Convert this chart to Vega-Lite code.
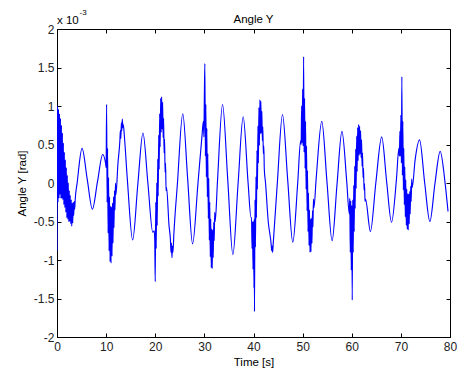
{
  "$schema": "https://vega.github.io/schema/vega-lite/v6.json",
  "width": 393,
  "height": 308,
  "autosize": {"type": "none"},
  "padding": {"left": 57, "top": 29, "right": 8, "bottom": 34},
  "background": "white",
  "title": {"text": "Angle Y", "font": "Liberation Sans", "fontSize": 11.5, "fontWeight": "normal", "color": "black", "offset": 6, "dy": 22},
  "data": {"values": [
    {"t":0,"v":-0.88},{"t":0.1,"v":1.0},{"t":0.2,"v":-0.25},{"t":0.3,"v":0.96},{"t":0.4,"v":-0.2},{"t":0.5,"v":0.9},{"t":0.6,"v":-0.15},{"t":0.7,"v":0.84},{"t":0.8,"v":-0.2},{"t":0.9,"v":0.75},{"t":1.0,"v":-0.2},{"t":1.1,"v":0.65},{"t":1.2,"v":-0.22},{"t":1.3,"v":0.52},{"t":1.4,"v":-0.28},{"t":1.5,"v":0.4},{"t":1.6,"v":-0.32},{"t":1.7,"v":0.3},{"t":1.8,"v":-0.38},{"t":1.9,"v":0.2},{"t":2.0,"v":-0.45},{"t":2.1,"v":0.1},{"t":2.2,"v":-0.47},{"t":2.3,"v":0.0},{"t":2.4,"v":-0.5},{"t":2.5,"v":-0.1},{"t":2.6,"v":-0.5},{"t":2.7,"v":-0.16},{"t":2.8,"v":-0.53},{"t":2.9,"v":-0.22},{"t":3.0,"v":-0.56},{"t":3.1,"v":-0.26},{"t":3.2,"v":-0.52},{"t":3.3,"v":-0.25},{"t":3.4,"v":-0.42},{"t":3.5,"v":-0.24},{"t":3.6,"v":-0.34},{"t":3.7,"v":-0.22},
    {"t":4.1,"v":0.0},{"t":5.1,"v":0.45},{"t":6.15,"v":0.05},{"t":7.2,"v":-0.34},{"t":8.25,"v":0.02},{"t":9.3,"v":0.37},{"t":9.9,"v":0.25},
    {"t":10.0,"v":0.2},{"t":10.1,"v":1.02},{"t":10.2,"v":-0.25},{"t":10.3,"v":0.45},{"t":10.4,"v":-0.65},{"t":10.5,"v":0.07},{"t":10.6,"v":-0.88},{"t":10.7,"v":-0.18},{"t":10.8,"v":-1.02},{"t":10.9,"v":-0.3},{"t":11.0,"v":-1.04},{"t":11.1,"v":-0.31},{"t":11.2,"v":-0.95},{"t":11.3,"v":-0.26},{"t":11.4,"v":-0.78},{"t":11.5,"v":-0.18},{"t":11.6,"v":-0.58},{"t":11.7,"v":-0.1},{"t":11.8,"v":-0.35},{"t":11.9,"v":0.0},{"t":12.0,"v":-0.15},
    {"t":12.4,"v":0.25},{"t":12.8,"v":0.55},{"t":12.9,"v":0.68},{"t":13.0,"v":0.58},{"t":13.1,"v":0.78},{"t":13.2,"v":0.68},{"t":13.3,"v":0.83},{"t":13.4,"v":0.72},{"t":13.5,"v":0.76},{"t":13.7,"v":0.62},
    {"t":14.35,"v":0.02},{"t":15.4,"v":-0.74},{"t":16.45,"v":-0.02},{"t":17.5,"v":0.65},{"t":18.5,"v":0.0},{"t":19.5,"v":-0.64},
    {"t":19.8,"v":-0.62},{"t":19.9,"v":-0.75},{"t":20.0,"v":-1.28},{"t":20.1,"v":-0.25},{"t":20.2,"v":-0.85},{"t":20.3,"v":0.0},{"t":20.4,"v":-0.55},{"t":20.5,"v":0.31},{"t":20.6,"v":-0.17},{"t":20.7,"v":0.62},{"t":20.8,"v":0.18},{"t":20.9,"v":0.9},{"t":21.0,"v":0.47},{"t":21.1,"v":1.1},{"t":21.2,"v":0.66},{"t":21.3,"v":1.12},{"t":21.4,"v":0.7},{"t":21.5,"v":1.05},{"t":21.6,"v":0.59},{"t":21.7,"v":0.84},{"t":21.8,"v":0.39},{"t":21.9,"v":0.57},{"t":22.0,"v":0.14},{"t":22.1,"v":0.26},{"t":22.2,"v":-0.1},{"t":22.3,"v":-0.06},
    {"t":22.8,"v":-0.55},{"t":23.1,"v":-0.75},{"t":23.2,"v":-0.9},{"t":23.3,"v":-0.78},{"t":23.4,"v":-0.97},{"t":23.5,"v":-0.82},{"t":23.6,"v":-0.9},{"t":23.8,"v":-0.65},{"t":24.5,"v":-0.02},{"t":25.6,"v":0.9},{"t":26.6,"v":0.05},{"t":27.6,"v":-0.79},{"t":28.7,"v":0.0},{"t":29.5,"v":0.6},{"t":29.8,"v":0.8},
    {"t":29.9,"v":0.6},{"t":30.0,"v":1.15},{"t":30.1,"v":1.55},{"t":30.2,"v":0.35},{"t":30.3,"v":1.02},{"t":30.4,"v":0.08},{"t":30.5,"v":0.71},{"t":30.6,"v":-0.18},{"t":30.7,"v":0.38},{"t":30.8,"v":-0.46},{"t":30.9,"v":0.06},{"t":31.0,"v":-0.74},{"t":31.1,"v":-0.25},{"t":31.2,"v":-0.96},{"t":31.3,"v":-0.47},{"t":31.4,"v":-1.1},{"t":31.5,"v":-0.6},{"t":31.6,"v":-1.11},{"t":31.7,"v":-0.61},{"t":31.8,"v":-0.97},{"t":31.9,"v":-0.51},{"t":32.0,"v":-0.75},{"t":32.1,"v":-0.38},{"t":32.2,"v":-0.5},
    {"t":32.65,"v":0.0},{"t":33.7,"v":1.02},{"t":34.75,"v":0.05},{"t":35.8,"v":-0.93},{"t":36.85,"v":-0.02},{"t":37.9,"v":0.86},{"t":38.9,"v":0.0},{"t":39.5,"v":-0.45},
    {"t":39.6,"v":-0.45},{"t":39.7,"v":-0.85},{"t":39.8,"v":-0.5},{"t":39.9,"v":-1.12},{"t":40.0,"v":-0.5},{"t":40.1,"v":-1.36},{"t":40.15,"v":-0.47},{"t":40.2,"v":-1.67},{"t":40.3,"v":-0.22},{"t":40.4,"v":-0.83},{"t":40.5,"v":0.08},{"t":40.6,"v":-0.45},{"t":40.7,"v":0.42},{"t":40.8,"v":-0.08},{"t":40.9,"v":0.74},{"t":41.0,"v":0.26},{"t":41.1,"v":0.98},{"t":41.2,"v":0.49},{"t":41.3,"v":1.08},{"t":41.4,"v":0.64},{"t":41.5,"v":1.06},{"t":41.6,"v":0.65},{"t":41.7,"v":0.93},{"t":41.8,"v":0.55},{"t":41.9,"v":0.73},{"t":42.0,"v":0.38},{"t":42.1,"v":0.48},{"t":42.2,"v":0.18},
    {"t":42.45,"v":0.0},{"t":43.0,"v":-0.5},{"t":43.6,"v":-0.8},{"t":43.7,"v":-0.88},{"t":43.8,"v":-0.82},{"t":43.9,"v":-0.9},{"t":44.0,"v":-0.8},{"t":44.85,"v":0.0},{"t":45.9,"v":0.89},{"t":46.95,"v":0.05},{"t":48.0,"v":-0.77},{"t":49.0,"v":0.0},{"t":49.6,"v":0.55},
    {"t":49.7,"v":0.5},{"t":49.8,"v":1.0},{"t":49.9,"v":0.52},{"t":50.0,"v":1.22},{"t":50.1,"v":0.48},{"t":50.2,"v":1.64},{"t":50.3,"v":0.4},{"t":50.4,"v":1.1},{"t":50.5,"v":0.19},{"t":50.6,"v":0.8},{"t":50.7,"v":-0.08},{"t":50.8,"v":0.48},{"t":50.9,"v":-0.36},{"t":51.0,"v":0.16},{"t":51.1,"v":-0.63},{"t":51.2,"v":-0.13},{"t":51.3,"v":-0.81},{"t":51.4,"v":-0.35},{"t":51.5,"v":-0.9},{"t":51.6,"v":-0.47},{"t":51.7,"v":-0.89},{"t":51.8,"v":-0.46},{"t":51.9,"v":-0.78},{"t":52.0,"v":-0.36},{"t":52.1,"v":-0.57},{"t":52.2,"v":-0.21},{"t":52.3,"v":-0.32},
    {"t":52.75,"v":0.05},{"t":53.9,"v":0.8},{"t":54.95,"v":0.02},{"t":56.0,"v":-0.75},{"t":57.0,"v":-0.02},{"t":58.0,"v":0.67},{"t":59.0,"v":0.0},{"t":59.5,"v":-0.4},
    {"t":59.6,"v":-0.2},{"t":59.7,"v":-0.9},{"t":59.8,"v":-0.23},{"t":59.9,"v":-1.13},{"t":60.0,"v":-0.29},{"t":60.1,"v":-1.52},{"t":60.2,"v":-0.22},{"t":60.3,"v":-0.9},{"t":60.4,"v":-0.03},{"t":60.5,"v":-0.63},{"t":60.6,"v":0.22},{"t":60.7,"v":-0.33},{"t":60.8,"v":0.44},{"t":60.9,"v":-0.07},{"t":61.0,"v":0.61},{"t":61.1,"v":0.15},{"t":61.2,"v":0.72},{"t":61.3,"v":0.29},{"t":61.4,"v":0.76},{"t":61.5,"v":0.36},{"t":61.6,"v":0.74},{"t":61.7,"v":0.38},{"t":61.8,"v":0.68},{"t":61.9,"v":0.33},{"t":62.0,"v":0.56},{"t":62.1,"v":0.22},{"t":62.2,"v":0.39},{"t":62.3,"v":0.07},{"t":62.4,"v":0.19},{"t":62.5,"v":-0.09},{"t":62.6,"v":-0.01},{"t":62.7,"v":-0.24},{"t":62.8,"v":-0.21},
    {"t":63.8,"v":-0.63},{"t":64.9,"v":0.0},{"t":66.1,"v":0.6},{"t":67.1,"v":0.02},{"t":68.1,"v":-0.51},{"t":69.1,"v":0.05},{"t":69.6,"v":0.45},
    {"t":69.7,"v":0.35},{"t":69.8,"v":0.67},{"t":69.9,"v":0.35},{"t":70.0,"v":0.88},{"t":70.1,"v":0.26},{"t":70.2,"v":1.38},{"t":70.3,"v":0.1},{"t":70.4,"v":0.8},{"t":70.5,"v":-0.09},{"t":70.6,"v":0.45},{"t":70.7,"v":-0.28},{"t":70.8,"v":0.21},{"t":70.9,"v":-0.44},{"t":71.0,"v":0.04},{"t":71.1,"v":-0.55},{"t":71.2,"v":-0.08},{"t":71.3,"v":-0.6},{"t":71.4,"v":-0.14},{"t":71.5,"v":-0.61},{"t":71.6,"v":-0.14},{"t":71.7,"v":-0.53},{"t":71.8,"v":-0.11},{"t":71.9,"v":-0.4},{"t":72.0,"v":-0.04},{"t":72.1,"v":-0.24},{"t":72.2,"v":0.05},{"t":72.3,"v":-0.06},
    {"t":72.9,"v":0.3},{"t":73.8,"v":0.56},{"t":74.85,"v":0.0},{"t":75.9,"v":-0.5},{"t":76.95,"v":0.0},{"t":78.0,"v":0.41},{"t":79.0,"v":0.0},{"t":79.6,"v":-0.37}
  ]},
  "layer": [
    {
      "mark": {"type": "line", "color": "#0000ff", "strokeWidth": 1.15, "interpolate": "monotone", "clip": true},
      "encoding": {
        "x": {"field": "t", "type": "quantitative", "scale": {"domain": [0, 80], "nice": false, "zero": false},
              "axis": {"orient": "bottom", "values": [0,10,20,30,40,50,60,70,80], "title": "Time [s]", "titlePadding": 4, "labelPadding": 8}},
        "y": {"field": "v", "type": "quantitative", "scale": {"domain": [-2, 2], "nice": false, "zero": false},
              "axis": {"orient": "left", "values": [-2,-1.5,-1,-0.5,0,0.5,1,1.5,2], "title": "Angle Y [rad]", "titlePadding": 6, "labelExpr": "'' + datum.value"}}
      }
    },
    {
      "mark": {"type": "line", "opacity": 0},
      "encoding": {
        "x": {"field": "t", "type": "quantitative",
              "axis": {"orient": "top", "values": [0,10,20,30,40,50,60,70,80], "labels": false, "title": null, "domain": false}},
        "y": {"field": "v", "type": "quantitative",
              "axis": {"orient": "right", "values": [-2,-1.5,-1,-0.5,0,0.5,1,1.5,2], "labels": false, "title": null, "domain": false}}
      }
    },
    {
      "data": {"values": [{"label": "x 10"}]},
      "mark": {"type": "text", "align": "left", "baseline": "alphabetic", "dy": -5, "font": "Liberation Sans", "fontSize": 11.5, "color": "black"},
      "encoding": {
        "x": {"datum": 0, "type": "quantitative", "axis": null},
        "y": {"datum": 2, "type": "quantitative", "axis": null},
        "text": {"field": "label"}
      }
    },
    {
      "data": {"values": [{"label": "-3"}]},
      "mark": {"type": "text", "align": "left", "baseline": "alphabetic", "dx": 22.5, "dy": -14, "font": "Liberation Sans", "fontSize": 8, "color": "black"},
      "encoding": {
        "x": {"datum": 0, "type": "quantitative", "axis": null},
        "y": {"datum": 2, "type": "quantitative", "axis": null},
        "text": {"field": "label"}
      }
    }
  ],
  "resolve": {"axis": {"x": "independent", "y": "independent"}},
  "config": {
    "view": {"stroke": "black", "strokeWidth": 1},
    "axis": {
      "grid": false,
      "domainColor": "black",
      "domainWidth": 1,
      "tickColor": "black",
      "tickSize": -4,
      "tickWidth": 1,
      "labelPadding": 7,
      "labelFlush": false,
      "labelOverlap": false,
      "labelFont": "Liberation Sans",
      "labelFontSize": 12,
      "labelColor": "#222",
      "titleFont": "Liberation Sans",
      "titleFontSize": 11.5,
      "titleFontWeight": "normal",
      "titleColor": "black"
    }
  }
}
